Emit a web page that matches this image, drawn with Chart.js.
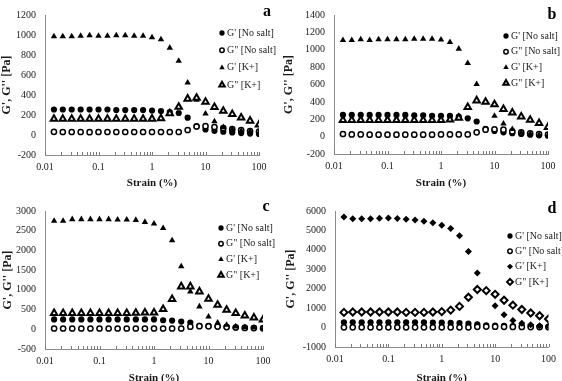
<!DOCTYPE html>
<html>
<head>
<meta charset="utf-8">
<script src="https://cdn.jsdelivr.net/npm/chart.js@4.4.0/dist/chart.umd.min.js"></script>
<style>
  html, body { margin: 0; padding: 0; background: #fff; overflow: hidden; }
  body { width: 562px; height: 381px; position: relative; }
  canvas { position: absolute; }
</style>
</head>
<body>
<canvas id="chartA" width="281" height="190" style="left:0;top:0"></canvas>
<canvas id="chartB" width="281" height="190" style="left:281px;top:0"></canvas>
<canvas id="chartC" width="281" height="195" style="left:0;top:190px"></canvas>
<canvas id="chartD" width="281" height="195" style="left:281px;top:190px"></canvas>
<script>
// strain sweep (%), same for every panel
const strain = [0.0147, 0.0215, 0.0316, 0.0464, 0.0681, 0.1, 0.147, 0.215, 0.316, 0.464, 0.681, 1,
  1.47, 2.15, 3.16, 4.64, 6.81, 10, 14.7, 21.5, 31.6, 46.4, 68.1, 100];

const xTicks = [0.01, 0.02, 0.03, 0.04, 0.05, 0.06, 0.07, 0.08, 0.09,
  0.1, 0.2, 0.3, 0.4, 0.5, 0.6, 0.7, 0.8, 0.9,
  1, 2, 3, 4, 5, 6, 7, 8, 9,
  10, 20, 30, 40, 50, 60, 70, 80, 90, 100];
const xMajor = [0.01, 0.1, 1, 10, 100];

const seriesLabels = ["G' [No salt]", 'G" [No salt]', "G' [K+]", 'G" [K+]'];

// panel a
const gpNoSaltA = [255, 255, 255, 255, 255, 255, 255, 250, 250, 250, 250, 245, 240, 230, 220, 173, 88, 55, 42, 33, 25, 19, 14, 10];
const gppNoSaltA = [32, 30, 30, 30, 28, 30, 30, 30, 30, 30, 30, 30, 30, 30, 30, 50, 85, 88, 80, 70, 58, 48, 40, 33];
const gpKA = [985, 985, 985, 990, 995, 990, 990, 995, 995, 990, 990, 975, 955, 872, 740, 523, 350, 214, 135, 79, 57, 41, 35, 25];
const gppKA = [160, 160, 160, 160, 160, 160, 160, 160, 160, 160, 160, 162, 165, 215, 280, 362, 370, 330, 278, 240, 208, 173, 142, 104];

// panel b
const gpNoSaltB = [250, 250, 250, 250, 250, 250, 250, 250, 245, 245, 240, 240, 238, 230, 211, 174, 90, 65, 50, 40, 30, 23, 15, 10];
const gppNoSaltB = [30, 25, 25, 22, 22, 22, 22, 22, 22, 22, 22, 25, 25, 25, 25, 50, 80, 85, 80, 60, 48, 38, 30, 23];
const gpKB = [1110, 1110, 1120, 1110, 1120, 1120, 1120, 1120, 1125, 1125, 1125, 1115, 1087, 1011, 845, 604, 405, 238, 150, 85, 45, 30, 20, 15];
const gppKB = [190, 190, 190, 190, 190, 190, 190, 190, 190, 190, 190, 190, 195, 215, 340, 415, 400, 370, 317, 275, 230, 192, 155, 110];

// panel c
const gpNoSaltC = [250, 250, 250, 250, 250, 250, 250, 250, 250, 250, 250, 250, 229, 220, 195, 170, 90, 85, 75, 60, 50, 40, 35, 30];
const gppNoSaltC = [20, 20, 20, 20, 20, 20, 20, 20, 20, 20, 20, 20, 20, 20, 20, 65, 80, 75, 70, 55, 45, 35, 30, 25];
const gpKC = [2750, 2750, 2790, 2790, 2790, 2790, 2790, 2780, 2780, 2770, 2720, 2680, 2566, 2253, 1592, 957, 576, 322, 170, 110, 70, 50, 40, 30];
const gppKC = [410, 410, 410, 410, 410, 410, 410, 410, 410, 415, 420, 423, 508, 762, 1084, 1084, 957, 771, 618, 491, 407, 347, 296, 246];

// panel d
const gpNoSaltD = [270, 270, 270, 270, 270, 270, 270, 270, 270, 270, 260, 250, 240, 230, 200, 160, 110, 100, 90, 80, 75, 65, 55, 45];
const gppNoSaltD = [15, 15, 15, 15, 15, 15, 15, 15, 15, 15, 15, 15, 15, 15, 15, 40, 50, 45, 40, 35, 30, 28, 25, 20];
const gpKD = [5690, 5600, 5600, 5600, 5630, 5640, 5610, 5570, 5540, 5470, 5390, 5270, 5100, 4730, 3920, 2810, 1880, 1120, 660, 360, 220, 150, 100, 70];
const gppKD = [780, 800, 800, 800, 800, 800, 800, 780, 780, 780, 800, 820, 900, 1090, 1560, 1960, 1900, 1712, 1407, 1153, 930, 750, 610, 441];

Chart.defaults.font.family = '"Liberation Serif", "Times New Roman", serif';
Chart.defaults.color = '#1a1a1a';

// legend list, panel letter and the small upward ticks on the strain axis
const sideLegend = {
  id: 'sideLegend',
  afterDraw(chart, args, opts) {
    const ctx = chart.ctx;
    const xs = chart.scales.x;
    ctx.save();
    ctx.strokeStyle = '#7a7a7a';
    ctx.lineWidth = 1;
    ctx.beginPath();
    xTicks.forEach((v) => {
      const px = Math.round(xs.getPixelForValue(v)) + 0.5;
      ctx.moveTo(px, xs.top);
      ctx.lineTo(px, xs.top - 3);
    });
    ctx.stroke();

    chart.data.datasets.forEach((ds, i) => {
      const y = opts.top + i * opts.gap;
      ctx.fillStyle = ds.backgroundColor;
      ctx.strokeStyle = ds.borderColor;
      ctx.lineWidth = ds.borderWidth;
      Chart.helpers.drawPoint(ctx, {
        pointStyle: ds.pointStyle,
        radius: ds.pointRadius * 0.85,
        rotation: 0,
        borderWidth: ds.borderWidth
      }, opts.x, y);
      ctx.fillStyle = '#1a1a1a';
      ctx.font = '10px "Liberation Serif"';
      ctx.textBaseline = 'middle';
      ctx.textAlign = 'left';
      ctx.fillText(ds.label, opts.x + 5, y);
    });
    ctx.font = 'bold 16px "Liberation Serif"';
    ctx.textAlign = 'center';
    ctx.fillStyle = '#000';
    ctx.fillText(opts.letter, opts.lx, opts.ly);
    ctx.restore();
  }
};

function points(values) {
  return strain.map((x, i) => ({ x: x, y: values[i] }));
}

function makeChart(id, p) {
  const canvas = document.getElementById(id);
  const W = canvas.width, H = canvas.height;
  const kShape = p.diamond ? 'rectRot' : 'triangle';
  const kRadius = p.diamond ? 3.5 : 3.7;
  const datasets = [
    { label: seriesLabels[0], data: points(p.series[0]), pointStyle: 'circle', pointRadius: 3.1,
      backgroundColor: '#000', borderColor: '#000', borderWidth: 0, order: 3 },
    { label: seriesLabels[1], data: points(p.series[1]), pointStyle: 'circle', pointRadius: 2.6,
      backgroundColor: '#fff', borderColor: '#000', borderWidth: 1.5, order: 2 },
    { label: seriesLabels[2], data: points(p.series[2]), pointStyle: kShape, pointRadius: kRadius,
      backgroundColor: '#000', borderColor: '#000', borderWidth: 0, order: 1 },
    { label: seriesLabels[3], data: points(p.series[3]), pointStyle: kShape, pointRadius: kRadius,
      backgroundColor: '#fff', borderColor: '#000', borderWidth: 2, order: 0 }
  ];
  return new Chart(canvas, {
    type: 'scatter',
    data: { datasets: datasets },
    options: {
      responsive: false,
      animation: false,
      layout: { padding: { left: 0, top: p.area.top, right: W - p.area.right, bottom: 0 } },
      plugins: {
        legend: { display: false },
        tooltip: { enabled: false },
        sideLegend: p.legend
      },
      scales: {
        x: {
          type: 'logarithmic',
          min: 0.01,
          max: 100,
          afterBuildTicks: (s) => { s.ticks = xTicks.map((v) => ({ value: v })); },
          afterFit: (s) => { s.height = H - p.area.bottom; },
          ticks: {
            autoSkip: false,
            maxRotation: 0,
            padding: 6,
            font: { size: 10 },
            callback: (v) => (xMajor.includes(v) ? String(v) : '')
          },
          grid: { display: false, drawTicks: false },
          border: { display: true, color: '#8c8c8c' },
          title: { display: true, text: 'Strain (%)', font: { size: 11, weight: 'bold' }, padding: 0 }
        },
        y: {
          min: p.y[0],
          max: p.y[1],
          ticks: { stepSize: p.y[2], padding: 9, font: { size: 10 }, callback: (v) => String(v) },
          grid: { display: false, drawTicks: false },
          border: { display: true, color: '#8c8c8c' },
          afterFit: (s) => { s.width = p.area.left; },
          title: { display: true, text: "G', G'' [Pa]", font: { size: 12, weight: 'bold' }, padding: p.titlePad }
        }
      }
    },
    plugins: [sideLegend]
  });
}

makeChart('chartA', {
  series: [gpNoSaltA, gppNoSaltA, gpKA, gppKA],
  y: [-200, 1200, 200],
  area: { left: 45, right: 259, top: 7, bottom: 155 },
  titlePad: 0,
  legend: { x: 222, top: 33, gap: 17.3, letter: 'a', lx: 267, ly: 12 }
});
makeChart('chartB', {
  series: [gpNoSaltB, gppNoSaltB, gpKB, gppKB],
  y: [-200, 1400, 200],
  area: { left: 53, right: 267, top: 12, bottom: 154 },
  titlePad: 1,
  legend: { x: 225, top: 36, gap: 15.7, letter: 'b', lx: 271, ly: 15 }
});
makeChart('chartC', {
  series: [gpNoSaltC, gppNoSaltC, gpKC, gppKC],
  y: [-500, 3000, 500],
  area: { left: 45, right: 263, top: 21, bottom: 159 },
  titlePad: 1,
  legend: { x: 221, top: 38, gap: 15.7, letter: 'c', lx: 266, ly: 17 }
});
makeChart('chartD', {
  series: [gpNoSaltD, gppNoSaltD, gpKD, gppKD],
  y: [-1000, 6000, 1000],
  area: { left: 54, right: 270, top: 21, bottom: 157 },
  titlePad: 3,
  diamond: true,
  legend: { x: 229, top: 46, gap: 15.3, letter: 'd', lx: 271, ly: 19 }
});
</script>
</body>
</html>
